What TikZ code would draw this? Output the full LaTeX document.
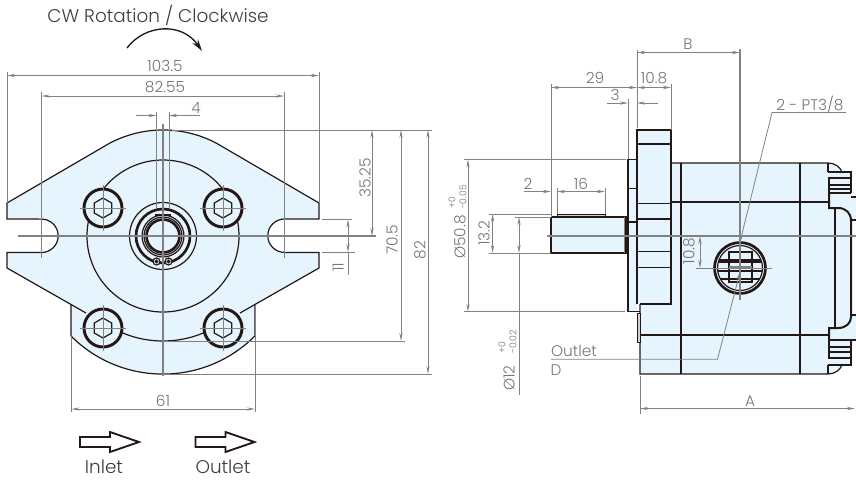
\documentclass[tikz,border=0pt]{standalone}
\usepackage{fontspec}
\setmainfont{Poppins Light}
\usetikzlibrary{arrows.meta}
\definecolor{bodyblue}{HTML}{E6F4FD}
\definecolor{inkdark}{HTML}{231815}
\definecolor{dimgray}{HTML}{828282}

\begin{document}
\begin{tikzpicture}[x=0.75pt,y=-0.75pt,line join=miter]
%all coordinates are pixels of the sheet, y running downwards
	\tikzstyle{outline}=[draw=inkdark, line width=0.9pt]
	\tikzstyle{thickline}=[draw=inkdark, line width=1.5pt]
	\tikzstyle{wall}=[draw=inkdark, line width=2pt]
	\tikzstyle{dim}=[draw=dimgray, line width=0.6pt]
	\tikzstyle{both}=[dim, {Stealth[length=6pt,width=2.4pt]}-{Stealth[length=6pt,width=2.4pt]}]
	\tikzstyle{tip}=[dim, -{Stealth[length=6pt,width=2.4pt]}]
	\tikzstyle{center}=[draw=dimgray, line width=0.8pt]
	\tikzstyle{label}=[text=dimgray!90!black, font=\fontsize{11.5}{13}\selectfont, inner sep=0pt]
	\tikzstyle{small}=[text=dimgray!90!black, font=\fontsize{7}{8}\selectfont, inner sep=0pt]
	\tikzstyle{caption}=[text=inkdark!85, font=\fontsize{13.8}{16}\selectfont, inner sep=0pt]
	\tikzstyle{hollow}=[draw=inkdark, line width=1.4pt, fill=white]

	\useasboundingbox (0,0) rectangle (856,483);

%front view
	\path[fill=bodyblue] (7,203) -- (110,143) arc[start angle=242.4,end angle=297.6,radius=114.5]
		-- (319,203) -- (319,219) -- (284.5,219) arc[start angle=-90,end angle=-270,radius=16.7]
		-- (319,252.5) -- (319,268) -- (255,305) -- (255,336) arc[start angle=45,end angle=135,radius=130]
		-- (71,305) -- (7,268) -- (7,252.5) -- (41.5,252.5) arc[start angle=90,end angle=-90,radius=16.7]
		-- (7,219) -- cycle;
	\draw[outline] (86,313) -- (7,268) -- (7,252.5) -- (41.5,252.5) arc[start angle=90,end angle=-90,radius=16.7]
		-- (7,219) -- (7,203) -- (110,143) arc[start angle=242.4,end angle=297.6,radius=114.5]
		-- (319,203) -- (319,219) -- (284.5,219) arc[start angle=-90,end angle=-270,radius=16.7]
		-- (319,252.5) -- (319,268) -- (240,313);
	\draw[outline] (71,305) -- (71,336) arc[start angle=135,end angle=45,radius=130] -- (255,305);
	\draw[outline] (163,236) circle[radius=76];
	\draw[outline] (163,236) ++(60:105) arc[start angle=60,end angle=120,radius=105];

	\foreach \x in {103,223}{
		\foreach \y in {208,328}{
			\draw[draw=inkdark, line width=2.2pt, fill=bodyblue] (\x,\y) circle[radius=19];
			\draw[outline] (\x,\y)+(90:10) -- +(30:10) -- +(-30:10) -- +(-90:10) -- +(-150:10) -- +(150:10) -- cycle;
			\draw[center, line width=0.5pt] (\x-23,\y) -- (\x+23,\y);
			\draw[center, line width=0.5pt] (\x,\y-23) -- (\x,\y+23);
		}
	}

	\draw[outline] (163,236) circle[radius=33.5];
	\draw[wall] (163,236) circle[radius=27];
	\draw[outline] (163,236) circle[radius=21];
	\draw[outline] (163,236) circle[radius=19];
	\draw[wall] (163,236) circle[radius=16.5];
	\draw[outline] (155,215) -- (171,215);
	\foreach \x in {156.5,168.5}{
		\draw[outline, fill=bodyblue] (\x,261.5) circle[radius=3.5];
		\draw[outline] (\x,261.5) circle[radius=1.2];
	}

%front view dimensions
	\draw[center] (163,124) -- (163,376);
	\draw[center] (18,236) -- (376,236);
	\draw[dim] (156.5,112) -- (156.5,208);
	\draw[dim] (169,112) -- (169,208);
	\draw[dim] (7,72) -- (7,203);
	\draw[dim] (319,72) -- (319,203);
	\draw[both] (7,75.5) -- (319,75.5);
	\node[label] (W-1) at (165,66) {103.5};
	\draw[dim] (41.5,92) -- (41.5,258);
	\draw[dim] (284,92) -- (284,258);
	\draw[both] (41.5,96) -- (284,96);
	\node[label] (W-2) at (165,87.5) {82.55};
	\draw[tip] (136,115.5) -- (156.5,115.5);
	\draw[tip] (200,115.5) -- (169,115.5);
	\node[label] (W-3) at (196,108) {4};
	\draw[dim] (172,130) -- (432,130);
	\draw[both] (372,130) -- (372,236);
	\node[label, rotate=90] (H-1) at (365,178) {35.25};
	\draw[dim] (163,341) -- (405,341);
	\draw[both] (401,130) -- (401,341);
	\node[label, rotate=90] (H-2) at (392,240) {70.5};
	\draw[dim] (163,374) -- (432,374);
	\draw[both] (428,130) -- (428,374);
	\node[label, rotate=90] (H-3) at (420,250) {82};
	\draw[dim] (322,219) -- (352,219);
	\draw[dim] (322,252.5) -- (355,252.5);
	\draw[both] (348,219.5) -- (348,252);
	\draw[dim] (348,252) -- (348,275);
	\node[label, rotate=90] (H-4) at (338,267) {11};
	\draw[dim] (71.5,336) -- (71.5,412);
	\draw[dim] (255,305) -- (255,412);
	\draw[both] (71.5,409) -- (255,409);
	\node[label] (W-4) at (163,401) {61};

%rotation and flow marks
	\node[caption] (cw) at (158,15) {CW Rotation / Clockwise};
	\draw[draw=inkdark, line width=1pt, -{Stealth[length=9pt,width=5pt]}] (127,48) .. controls (145,24) and (182,22) .. (202,51);
	\foreach \x/\n/\t in {80/Inlet/104,195.5/Outlet/223}{
		\draw[hollow] (\x,437) -- (\x+30,437) -- (\x+30,432) -- (\x+59,442) -- (\x+30,452) -- (\x+30,447) -- (\x,447) -- cycle;
		\node[caption] (\n) at (\t,467) {\n};
	}

%side view
	\path[fill=bodyblue] (551,217) rectangle (628,253);
	\path[fill=bodyblue] (628,159) rectangle (637,312);
	\path[fill=bodyblue] (637,130) rectangle (671,304);
	\path[fill=bodyblue] (671,163) -- (828,163) .. controls (835,163) and (840,167) .. (842,172) -- (851,172) -- (851,317)
		-- (851,365) -- (842,365) .. controls (840,370) and (835,374) .. (828,374) -- (640,374) -- (640,304) -- (671,304) -- cycle;
	\path[fill=bodyblue] (851,197) rectangle (856,220);
	\path[fill=bodyblue] (851,315) rectangle (856,340);

	\draw[fill=black!18, draw=inkdark, line width=0.6pt] (557,217) rectangle (605,214);
	\draw[fill=black!18, draw=none] (624,217) rectangle (626,253);
	\draw[outline] (551,217) -- (626,217) -- (626,253) -- (551,253);
	\draw[wall] (551,217) -- (551,253);
	\draw[dim] (624,217) -- (624,253);
	\draw[outline] (637,159.5) -- (628,159.5) -- (628,311.7) -- (640,311.7);
	\draw[outline] (628,188.7) -- (637,188.7);
	\draw[thickline] (628,221.7) -- (637,221.7);
	\draw[outline] (637,304) -- (637,130) -- (671,130) -- (671,304) -- (640,304);
	\foreach \y in {144,203.3,219,251.7,267.3}{
		\draw[outline] (637,\y) -- (671,\y);
	}
	\draw[thickline] (671,201.7) -- (828,201.7);
	\draw[outline] (671,163) -- (828,163) .. controls (835,163) and (840,167) .. (842,172);
	\draw[outline] (640,304) -- (640,374) -- (828,374) .. controls (835,374) and (840,370) .. (842,365);
	\draw[fill=black!18, draw=inkdark, line width=0.6pt] (637.5,313) rectangle (640,342);
	\draw[outline] (640,335) -- (829,335);
	\draw[outline] (681,163) -- (681,374);
	\draw[outline] (800,163) -- (800,374);
	\draw[outline] (828,163) -- (828,172);
	\draw[thickline] (828,172) -- (851,172) -- (851,193);
	\draw[wall] (851,193) -- (829,193) -- (829,178) -- (851,178);
	\draw[outline] (829,185) -- (851,185);
	\draw[outline] (829,189) -- (851,189);
	\draw[thickline] (829,193) -- (829,208) -- (838,208) .. controls (846,208) and (851,213) .. (851,221) -- (851,317) .. controls (851,323) and (846,328) .. (838,328) -- (829,328) -- (829,340);
	\draw[outline] (835,208) -- (835,327);
	\draw[wall] (851,340) -- (829,340) -- (829,358) -- (851,358);
	\draw[outline] (829,347) -- (851,347);
	\draw[outline] (829,352) -- (851,352);
	\draw[thickline] (851,340) -- (851,365) -- (828,365);
	\draw[outline] (828,365) -- (828,374);
	\draw[outline] (851,197) -- (856,197);
	\draw[outline] (851,220) -- (856,220);
	\draw[outline] (851,315) -- (856,315);
	\draw[outline] (851,340) -- (856,340);

%port
	\draw[draw=inkdark, line width=2pt, fill=bodyblue] (740,268) circle[radius=25.5];
	\draw[outline] (740,268) circle[radius=22.5];
	\begin{scope}
		\clip (740,268) circle[radius=22.5];
		\draw[outline] (729,252) rectangle (752,282);
		\foreach \y in {260,262,271,279}{
			\draw[outline] (715,\y) -- (765,\y);
		}
		\draw[fill=dimgray, draw=none] (729,266) rectangle (752,269);
	\end{scope}

%side view dimensions
	\draw[center] (547,236) -- (856,236);
	\draw[dim] (696,268) -- (772,268);
	\draw[center] (740,49) -- (740,300);
	\draw[dim] (637,50) -- (637,128);
	\draw[both] (637,52.5) -- (740,52.5);
	\node[label] (B) at (688,44) {B};
	\draw[dim] (551,84) -- (551,217);
	\draw[dim] (671,84) -- (671,130);
	\draw[both] (551,87.5) -- (637,87.5);
	\draw[both] (637,87.5) -- (671,87.5);
	\node[label] (S-1) at (595,78) {29};
	\node[label] (S-2) at (654,78) {10.8};
	\draw[dim] (628,99) -- (628,159);
	\draw[tip] (607,103) -- (628,103);
	\draw[tip] (658,103) -- (637,103);
	\node[label] (S-3) at (615,95) {3};
	\draw[tip] (846,112.5) -- (772,112.5) -- (740,242);
	\node[label] (port) at (810,105) {2 - PT3/8};
	\draw[dim] (464,159.3) -- (626,159.3);
	\draw[dim] (464,311.7) -- (625,311.7);
	\draw[both] (468,159.3) -- (468,311.7);
	\node[label, rotate=90] (D-1) at (460,237) {Ø50.8};
	\node[small, rotate=90] (T-1) at (452,203) {+0};
	\node[small, rotate=90] (T-2) at (463,197) {-0.05};
	\draw[dim] (489,214) -- (551,214);
	\draw[dim] (489,253) -- (551,253);
	\draw[both] (492.6,214) -- (492.6,253);
	\node[label, rotate=90] (S-4) at (484,233) {13.2};
	\draw[dim] (515,217) -- (551,217);
	\draw[both] (519,217) -- (519,253);
	\draw[dim] (519,253) -- (519,395);
	\node[label, rotate=90] (D-2) at (509,378) {Ø12};
	\node[small, rotate=90] (T-3) at (502,348) {+0};
	\node[small, rotate=90] (T-4) at (513,342) {-0.02};
	\draw[tip] (524,191.5) -- (551,191.5);
	\node[label] (S-5) at (528,184) {2};
	\draw[dim] (557,188) -- (557,214);
	\draw[dim] (605,188) -- (605,214);
	\draw[both] (557,191.5) -- (605,191.5);
	\node[label] (S-6) at (581,184) {16};
	\draw[both] (700,236) -- (700,268);
	\node[label, rotate=90] (S-7) at (689,251) {10.8};
	\draw[tip] (551,359.3) -- (717.5,359.3) -- (740,272);
	\node[label] (outlet) at (574,351) {Outlet};
	\node[label] (D) at (556,370) {D};
	\draw[dim] (640,376) -- (640,414);
	\draw[both] (640,408.5) -- (855,408.5);
	\node[label] (A) at (750,401) {A};
\end{tikzpicture}
\end{document}
